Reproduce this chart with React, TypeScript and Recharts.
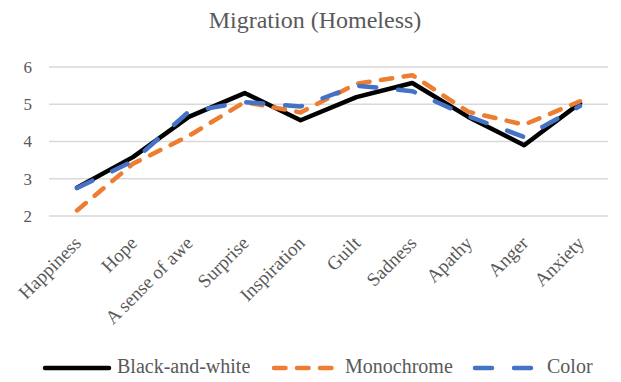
import React from 'react';
import { LineChart, Line, XAxis, YAxis, CartesianGrid } from 'recharts';

// Emotion categories along the x axis
const emotions = [
    'Happiness',
    'Hope',
    'A sense of awe',
    'Surprise',
    'Inspiration',
    'Guilt',
    'Sadness',
    'Apathy',
    'Anger',
    'Anxiety',
];

// Mean ratings per presentation style
const blackAndWhite = [2.76, 3.58, 4.66, 5.3, 4.57, 5.19, 5.57, 4.66, 3.9, 5.03];
const monochrome = [2.15, 3.4, 4.15, 5.06, 4.78, 5.55, 5.78, 4.8, 4.45, 5.08];
const color = [2.75, 3.47, 4.8, 5.06, 4.94, 5.5, 5.35, 4.68, 4.12, 4.95];

const yTicks = [2, 3, 4, 5, 6];

const FONT = '"Liberation Serif", "Times New Roman", serif';
const TEXT = '#595959';

const series = [
    { key: 'bw', name: 'Black-and-white', stroke: '#000000', dash: undefined as string | undefined, legendX: 45, textX: 117 },
    { key: 'mono', name: 'Monochrome', stroke: '#ED7D31', dash: '11.5 11.5', legendX: 274, textX: 345 },
    { key: 'color', name: 'Color', stroke: '#4472C4', dash: '17 22', legendX: 475, textX: 547 },
];

const chartData = emotions.map((emotion, i) => ({
    emotion,
    bw: blackAndWhite[i],
    mono: monochrome[i],
    color: color[i],
}));

// Rotated category label, end of text sits just under the data point
const EmotionTick = ({ x, y, payload }: any) => (
    <g transform={`translate(${x + 1},${y + 24}) rotate(-45)`}>
        <text textAnchor="end" dy="0.32em" fill={TEXT} style={{ fontFamily: FONT, fontSize: 19 }}>
            {payload.value}
        </text>
    </g>
);

const ValueTick = ({ x, y, payload }: any) => (
    <text x={x} y={y} textAnchor="end" dy="0.35em" fill={TEXT} style={{ fontFamily: FONT, fontSize: 17 }}>
        {payload.value}
    </text>
);

export default function App() {
    return (
        <div
            style={{
                position: 'absolute',
                left: 0,
                top: 0,
                width: 621,
                height: 382,
                background: '#fff',
                fontFamily: FONT,
            }}
        >
            <LineChart
                width={621}
                height={382}
                data={chartData}
                margin={{ top: 67, right: 13, left: 0, bottom: 0 }}
            >
                <CartesianGrid horizontal vertical={false} stroke="#d9d9d9" strokeWidth={1.3} />
                <XAxis
                    dataKey="emotion"
                    height={166}
                    axisLine={false}
                    tickLine={false}
                    tickSize={0}
                    tickMargin={0}
                    interval={0}
                    padding={{ left: 28, right: 28 }}
                    tick={<EmotionTick />}
                />
                <YAxis
                    width={49}
                    domain={[2, 6]}
                    ticks={yTicks}
                    axisLine={false}
                    tickLine={false}
                    tickSize={0}
                    tickMargin={17}
                    tick={<ValueTick />}
                />
                {series.map((s) => (
                    <Line
                        key={s.key}
                        dataKey={s.key}
                        name={s.name}
                        type="linear"
                        stroke={s.stroke}
                        strokeWidth={4.5}
                        strokeDasharray={s.dash}
                        strokeLinecap="round"
                        strokeLinejoin="round"
                        dot={false}
                        activeDot={false}
                        isAnimationActive={false}
                    />
                ))}
            </LineChart>

            {/* title and legend drawn over the chart */}
            <svg width={621} height={382} style={{ position: 'absolute', left: 0, top: 0, pointerEvents: 'none' }}>
                <text x={315} y={28} textAnchor="middle" fill={TEXT} style={{ fontFamily: FONT, fontSize: 24 }}>
                    Migration (Homeless)
                </text>
                {series.map((s) => (
                    <g key={s.key}>
                        <line
                            x1={s.legendX}
                            x2={s.legendX + 64}
                            y1={368}
                            y2={368}
                            stroke={s.stroke}
                            strokeWidth={4.5}
                            strokeDasharray={s.dash}
                            strokeLinecap="round"
                        />
                        <text x={s.textX} y={373} fill={TEXT} style={{ fontFamily: FONT, fontSize: 20 }}>
                            {s.name}
                        </text>
                    </g>
                ))}
            </svg>
        </div>
    );
}
